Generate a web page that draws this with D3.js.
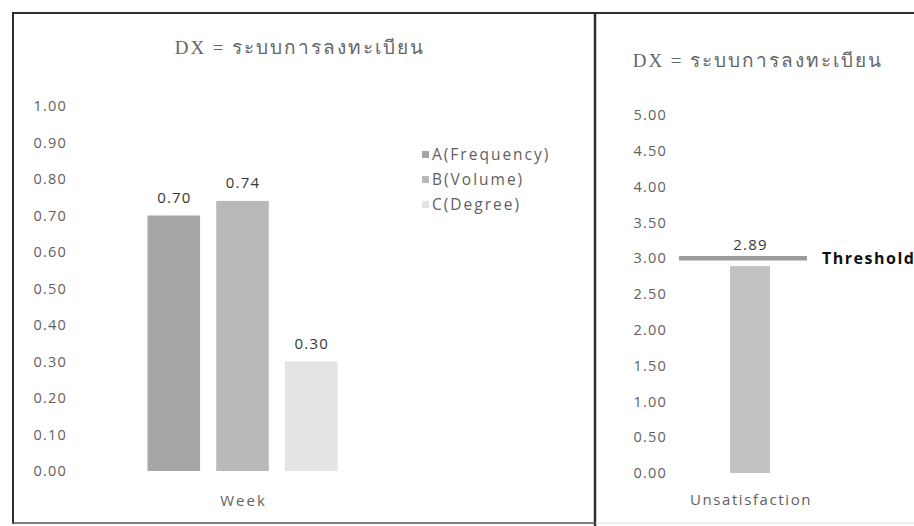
<!DOCTYPE html>
<html>
<head>
<meta charset="utf-8">
<script src="https://cdn.jsdelivr.net/npm/d3@7"></script>
<style>
  html, body { margin: 0; padding: 0; background: #fff; }
  svg { display: block; }
  .tick text { font-family: "Open Sans", Lato, sans-serif; }
</style>
</head>
<body>
<svg id="chart" width="914" height="526"></svg>
<script>
// Left panel: three indicators for the week
const weekCategories = ["Week"];
const weekSeries = ["A(Frequency)", "B(Volume)", "C(Degree)"];
const weekValues = [0.70, 0.74, 0.30];
const weekTicks = [0, 0.1, 0.2, 0.3, 0.4, 0.5, 0.6, 0.7, 0.8, 0.9, 1.0];

// Right panel: unsatisfaction score against a threshold
const satCategories = ["Unsatisfaction"];
const satValues = [2.89];
const thresholdValue = 3.00;
const thresholdLabel = "Threshold";
const satTicks = [0, 0.5, 1, 1.5, 2, 2.5, 3, 3.5, 4, 4.5, 5];

const chartTitle = "DX = ระบบการลงทะเบียน";

const seriesColors = ["#a6a6a6", "#b9b9b9", "#e4e4e4"];
const satColor = "#c2c2c2";
const thresholdColor = "#9c9c9c";
const tickColor = "#5f5f5f";
const labelColor = "#383838";
const fontSans = "'Open Sans', Lato, sans-serif";
const fontSerif = "'Liberation Serif', 'DejaVu Serif', serif";

const svg = d3.select("#chart");

// Panel frames
const frame = svg.append("g").attr("fill", "none").attr("stroke", "#2e2e2e");
frame.append("line").attr("x1", 12).attr("x2", 914).attr("y1", 13).attr("y2", 13).attr("stroke-width", 2);
frame.append("line").attr("x1", 13).attr("x2", 13).attr("y1", 12).attr("y2", 524).attr("stroke-width", 2);
frame.append("line").attr("x1", 595).attr("x2", 595).attr("y1", 12).attr("y2", 526).attr("stroke-width", 2.5);
frame.append("line").attr("x1", 12).attr("x2", 596).attr("y1", 523).attr("y2", 523).attr("stroke-width", 1.5).attr("stroke", "#555");
frame.append("line").attr("x1", 596).attr("x2", 914).attr("y1", 523).attr("y2", 523).attr("stroke-width", 1).attr("stroke", "#ddd");

// ---------- Left panel ----------
const left = svg.append("g");
const yL = d3.scaleLinear().domain([0, 1]).range([471, 106]);
const x0L = d3.scaleBand().domain(weekCategories).range([70, 415]).paddingInner(0).paddingOuter(0.408);
const x1L = d3.scaleBand().domain(weekSeries).range([0, x0L.bandwidth()]).paddingInner(0.235);
const colorL = d3.scaleOrdinal().domain(weekSeries).range(seriesColors);

left.append("text")
  .attr("x", 300).attr("y", 54)
  .attr("text-anchor", "middle")
  .attr("font-family", fontSerif).attr("font-size", 19).attr("letter-spacing", 2).attr("fill", "#666")
  .text(chartTitle);

const axL = left.append("g").attr("transform", "translate(67,0)")
  .call(d3.axisLeft(yL).tickValues(weekTicks).tickFormat(d3.format(".2f")).tickSize(0).tickPadding(0));
axL.select(".domain").remove();
axL.selectAll("text").attr("font-size", 14.5).attr("letter-spacing", 1.2).attr("fill", tickColor);

const weekData = weekSeries.map((s, i) => ({ cat: weekCategories[0], series: s, value: weekValues[i] }));
const gL = left.append("g");
gL.selectAll("rect").data(weekData).join("rect")
  .attr("x", d => x0L(d.cat) + x1L(d.series))
  .attr("width", x1L.bandwidth())
  .attr("y", d => yL(d.value))
  .attr("height", d => yL(0) - yL(d.value))
  .attr("fill", d => colorL(d.series));
gL.selectAll("text").data(weekData).join("text")
  .attr("x", d => x0L(d.cat) + x1L(d.series) + x1L.bandwidth() / 2 + 0.6)
  .attr("y", d => yL(d.value) - 13)
  .attr("text-anchor", "middle")
  .attr("font-family", fontSans).attr("font-size", 15).attr("letter-spacing", 1.2).attr("fill", labelColor)
  .text(d => d3.format(".2f")(d.value));

left.append("text")
  .attr("x", x0L("Week") + x0L.bandwidth() / 2 + 1).attr("y", 506)
  .attr("text-anchor", "middle")
  .attr("font-family", fontSans).attr("font-size", 15).attr("letter-spacing", 2).attr("fill", tickColor)
  .text(weekCategories[0]);

// Legend
const legend = left.append("g").attr("transform", "translate(422,155)");
const li = legend.selectAll("g").data(weekSeries).join("g")
  .attr("transform", (d, i) => `translate(0,${i * 25})`);
li.append("rect").attr("x", 0).attr("y", -4).attr("width", 7).attr("height", 7).attr("fill", d => colorL(d));
li.append("text").attr("x", 10).attr("y", 0).attr("dy", "0.35em")
  .attr("font-family", fontSans).attr("font-size", 15.5).attr("letter-spacing", 2).attr("fill", tickColor)
  .text(d => d);

// ---------- Right panel ----------
const right = svg.append("g");
const yR = d3.scaleLinear().domain([0, 5]).range([473, 115]);
const xR = d3.scaleBand().domain(satCategories).range([655, 845]).paddingInner(0).paddingOuter(1.875);

right.append("text")
  .attr("x", 758).attr("y", 67)
  .attr("text-anchor", "middle")
  .attr("font-family", fontSerif).attr("font-size", 19).attr("letter-spacing", 2).attr("fill", "#666")
  .text(chartTitle);

const axR = right.append("g").attr("transform", "translate(667,0)")
  .call(d3.axisLeft(yR).tickValues(satTicks).tickFormat(d3.format(".2f")).tickSize(0).tickPadding(0));
axR.select(".domain").remove();
axR.selectAll("text").attr("font-size", 14.5).attr("letter-spacing", 1.2).attr("fill", tickColor);

const satData = satCategories.map((c, i) => ({ cat: c, value: satValues[i] }));
right.selectAll("rect.bar").data(satData).join("rect").attr("class", "bar")
  .attr("x", d => xR(d.cat))
  .attr("width", xR.bandwidth())
  .attr("y", d => yR(d.value))
  .attr("height", d => yR(0) - yR(d.value))
  .attr("fill", satColor);

// Threshold line
const cx = xR("Unsatisfaction") + xR.bandwidth() / 2;
right.append("line")
  .attr("x1", cx - 71).attr("x2", cx + 57)
  .attr("y1", yR(thresholdValue)).attr("y2", yR(thresholdValue))
  .attr("stroke", thresholdColor).attr("stroke-width", 4.5);
right.append("text")
  .attr("x", 822).attr("y", yR(thresholdValue)).attr("dy", "0.35em")
  .attr("font-family", fontSans).attr("font-size", 16).attr("font-weight", "bold").attr("letter-spacing", 1.5).attr("fill", "#111")
  .text(thresholdLabel);

right.selectAll("text.val").data(satData).join("text").attr("class", "val")
  .attr("x", d => xR(d.cat) + xR.bandwidth() / 2 + 0.6)
  .attr("y", d => yR(d.value) - 16)
  .attr("text-anchor", "middle")
  .attr("font-family", fontSans).attr("font-size", 15).attr("letter-spacing", 1.2).attr("fill", labelColor)
  .text(d => d3.format(".2f")(d.value));

right.append("text")
  .attr("x", cx + 1).attr("y", 505)
  .attr("text-anchor", "middle")
  .attr("font-family", fontSans).attr("font-size", 15).attr("letter-spacing", 1.6).attr("fill", tickColor)
  .text(satCategories[0]);
</script>
</body>
</html>
